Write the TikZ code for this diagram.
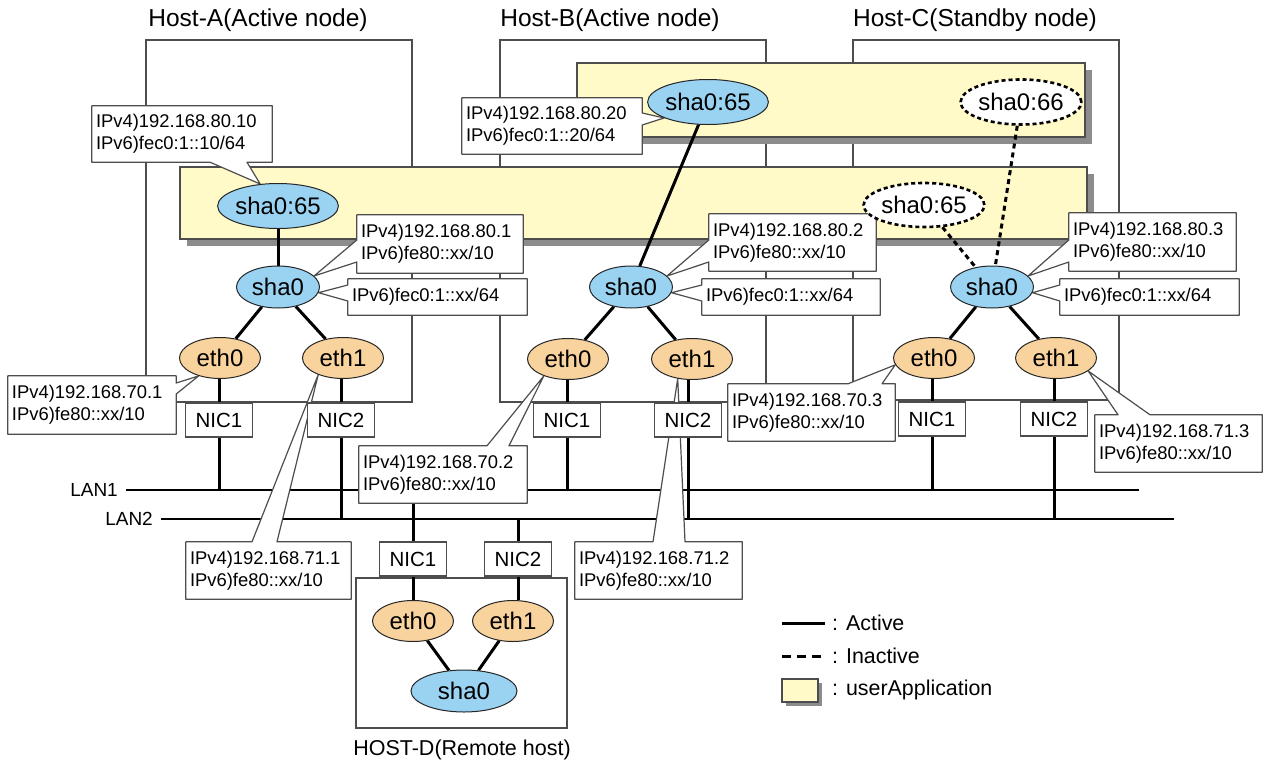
\documentclass[tikz,border=0pt]{standalone}
\usepackage{fontspec}
\setmainfont{Liberation Sans}
\usetikzlibrary{calc,shapes.geometric}
\pgfdeclarelayer{bg}
\pgfdeclarelayer{co}
\pgfsetlayers{bg,co,main}
\definecolor{uyel}{HTML}{FFFAC8}
\definecolor{sblue}{HTML}{9AD3F2}
\definecolor{eorg}{HTML}{F9D39D}
\definecolor{lgray}{HTML}{4D4D4D}
\definecolor{shad}{HTML}{8C8C8C}
\tikzset{
  hostbox/.style={draw=lgray, line width=1.3pt},
  ua/.style={fill=uyel, draw=lgray, line width=1.2pt},
  shd/.style={fill=shad, draw=none},
  title/.style={font=\fontsize{24.5}{28}\selectfont, inner sep=0pt},
  sha/.style={ellipse, draw=black!85, line width=1pt, fill=sblue, inner sep=0pt,
    minimum width=83pt, minimum height=42pt, font=\fontsize{24}{28}\selectfont},
  eth/.style={ellipse, draw=black!85, line width=1pt, fill=eorg, inner sep=0pt,
    minimum width=81pt, minimum height=41pt, font=\fontsize{24}{28}\selectfont},
  dsha/.style={ellipse, draw=black, fill=white, line width=2.6pt, dash pattern=on 4pt off 3pt,
    inner sep=0pt, font=\fontsize{24}{28}\selectfont},
  nic/.style={rectangle, draw=lgray, fill=white, line width=1.2pt, minimum width=67pt,
    minimum height=34pt, inner sep=0pt, font=\fontsize{20.5}{24}\selectfont},
  lbl/.style={rectangle, inner xsep=4pt, inner ysep=0pt, align=left,
    font=\fontsize{18.4}{22}\selectfont},
  cbox/.style={fill=white, draw=lgray, line width=1.2pt, line join=round},
  conn/.style={line width=3pt, black},
  inact/.style={line width=3pt, black, dash pattern=on 5pt off 4pt},
  leginact/.style={line width=3pt, black, dash pattern=on 9pt off 6pt},
  lan/.style={line width=2.6pt, black},
  lantxt/.style={font=\fontsize{19}{22}\selectfont, inner sep=0pt},
  legtxt/.style={font=\fontsize{21.4}{24}\selectfont, inner sep=0pt, anchor=west},
}
\newcommand\calL[4]{\filldraw[cbox] (#1.north west) -- (#1.west |- 0,#2) -- (#4) -- (#1.west |- 0,#3) -- (#1.south west) -- (#1.south east) -- (#1.north east) -- cycle;}
\newcommand\calR[4]{\filldraw[cbox] (#1.north west) -- (#1.north east) -- (#1.east |- 0,#2) -- (#4) -- (#1.east |- 0,#3) -- (#1.south east) -- (#1.south west) -- cycle;}
\newcommand\calT[4]{\filldraw[cbox] (#1.north west) -- (#1.north -| #2,0) -- (#4) -- (#1.north -| #3,0) -- (#1.north east) -- (#1.south east) -- (#1.south west) -- cycle;}
\newcommand\calB[4]{\filldraw[cbox] (#1.north west) -- (#1.north east) -- (#1.south east) -- (#1.south -| #3,0) -- (#4) -- (#1.south -| #2,0) -- (#1.south west) -- cycle;}
\begin{document}
\begin{tikzpicture}[x=1pt,y=-1pt]
\useasboundingbox (0,0) rectangle (1263,763);
% titles
\node[title] (tA) at (258,20) {Host-A(Active node)};
\node[title] (tB) at (610,20) {Host-B(Active node)};
\node[title] (tC) at (975,20) {Host-C(Standby node)};
% Host A
\node[sha, minimum width=109pt, minimum height=45pt] (sA65) at (278,206) {sha0:65};
\node[sha] (sA) at (278,287) {sha0};
\node[eth] (eA0) at (220,358) {eth0};
\node[eth] (eA1) at (343,358) {eth1};
\node[nic] (nA1) at (219,420) {NIC1};
\node[nic] (nA2) at (341,420) {NIC2};
% Host B
\node[sha, minimum width=109pt, minimum height=45pt] (sB65) at (708,102) {sha0:65};
\node[sha] (sB) at (631,287) {sha0};
\node[eth] (eB0) at (568,359) {eth0};
\node[eth] (eB1) at (692,359) {eth1};
\node[nic] (nB1) at (567,420) {NIC1};
\node[nic] (nB2) at (688,420) {NIC2};
% Host C
\node[dsha, minimum width=109pt, minimum height=45pt] (dC66) at (1021,102) {sha0:66};
\node[dsha, minimum width=104pt, minimum height=44pt] (dC65) at (924,205) {sha0:65};
\node[sha] (sC) at (992,287) {sha0};
\node[eth] (eC0) at (934,358) {eth0};
\node[eth] (eC1) at (1056,358) {eth1};
\node[nic] (nC1) at (932,419) {NIC1};
\node[nic] (nC2) at (1054,419) {NIC2};
% Host D
\node[nic] (nD1) at (413,559) {NIC1};
\node[nic] (nD2) at (518,559) {NIC2};
\node[eth] (eD0) at (413,621) {eth0};
\node[eth] (eD1) at (513,621) {eth1};
\node[sha, minimum width=106pt] (sD) at (464,691) {sha0};
\node[font=\fontsize{21.5}{24}\selectfont, inner sep=0pt] (tD) at (462,750) {HOST-D(Remote host)};
% LAN
\coordinate (lan1L) at (126,490);
\coordinate (lan1R) at (1139,490);
\coordinate (lan2L) at (161,519);
\coordinate (lan2R) at (1174,519);
\node[lantxt, anchor=east] (l1) at (118,490) {LAN1};
\node[lantxt, anchor=east] (l2) at (153,519) {LAN2};
% labels
\node[lbl, text width=172pt, minimum height=56pt] (c1) at (182,134) {IPv4)192.168.80.10\\IPv6)fec0:1::10/64};
\node[lbl, text width=158pt, minimum height=58pt] (c2) at (440,244) {IPv4)192.168.80.1\\IPv6)fe80::xx/10};
\node[lbl, text width=171pt, minimum height=36pt] (c3) at (437.5,297) {IPv6)fec0:1::xx/64};
\node[lbl, text width=172pt, minimum height=56pt] (c4) at (552,126) {IPv4)192.168.80.20\\IPv6)fec0:1::20/64};
\node[lbl, text width=159pt, minimum height=57pt] (c5) at (792.5,242.5) {IPv4)192.168.80.2\\IPv6)fe80::xx/10};
\node[lbl, text width=170pt, minimum height=36pt] (c6) at (791,297) {IPv6)fec0:1::xx/64};
\node[lbl, text width=159pt, minimum height=58pt] (c7) at (1152.5,242) {IPv4)192.168.80.3\\IPv6)fe80::xx/10};
\node[lbl, text width=171pt, minimum height=36pt] (c8) at (1149.5,297) {IPv6)fec0:1::xx/64};
\node[lbl, text width=160pt, minimum height=58pt] (c9) at (92,405) {IPv4)192.168.70.1\\IPv6)fe80::xx/10};
\node[lbl, text width=160pt, minimum height=57pt] (c10) at (443,474.5) {IPv4)192.168.70.2\\IPv6)fe80::xx/10};
\node[lbl, text width=157pt, minimum height=57pt] (c11) at (268.5,570.5) {IPv4)192.168.71.1\\IPv6)fe80::xx/10};
\node[lbl, text width=159pt, minimum height=57pt] (c12) at (658.5,570.5) {IPv4)192.168.71.2\\IPv6)fe80::xx/10};
\node[lbl, text width=159pt, minimum height=57pt] (c13) at (811.5,412.5) {IPv4)192.168.70.3\\IPv6)fe80::xx/10};
\node[lbl, text width=159pt, minimum height=57pt] (c14) at (1178.5,443.5) {IPv4)192.168.71.3\\IPv6)fe80::xx/10};
% legend
\coordinate (lg1a) at (782,623);
\coordinate (lg1b) at (825,623);
\coordinate (lg2a) at (782,656);
\coordinate (lg2b) at (825,656);
\node[legtxt] (lt1) at (832,623) {: Active};
\node[legtxt] (lt2) at (832,656) {: Inactive};
\node[legtxt] (lt3) at (832,690) {: userApplication};

\begin{pgfonlayer}{bg}
\fill[white] (0,0) rectangle (1263,763);
% host boxes
\draw[hostbox] (146,40) rectangle (412,402);
\draw[hostbox] (500,40) rectangle (766,402);
\draw[hostbox] (853,40) rectangle (1119,400);
\draw[hostbox] (356,578) rectangle (567,728);
% userApplication boxes
\fill[shd] (584,70) rectangle (1092,144);
\draw[ua] (577,63) rectangle (1085,137);
\fill[shd] (187,174) rectangle (1094,246);
\draw[ua] (180,167) rectangle (1087,239);
% LAN lines
\draw[lan] (lan1L) -- (lan1R);
\draw[lan] (lan2L) -- (lan2R);
% connections
\draw[conn] (sA65) -- (sA);
\draw[conn] (sA) -- (eA0);
\draw[conn] (sA) -- (eA1);
\draw[conn] (eA0.south -| nA1) -- (nA1.north);
\draw[conn] (eA1.south -| nA2) -- (nA2.north);
\draw[conn] (nA1.south) -- (nA1.south |- lan1L);
\draw[conn] (nA2.south) -- (nA2.south |- lan2L);
\draw[conn] (sB65) -- (sB);
\draw[conn] (sB) -- (eB0);
\draw[conn] (sB) -- (eB1);
\draw[conn] (eB0.south -| nB1) -- (nB1.north);
\draw[conn] (eB1.south -| nB2) -- (nB2.north);
\draw[conn] (nB1.south) -- (nB1.south |- lan1L);
\draw[conn] (nB2.south) -- (nB2.south |- lan2L);
\draw[inact] (dC66) -- (sC);
\draw[inact] (dC65) -- (sC);
\draw[conn] (sC) -- (eC0);
\draw[conn] (sC) -- (eC1);
\draw[conn] (eC0.south -| nC1) -- (nC1.north);
\draw[conn] (eC1.south -| nC2) -- (nC2.north);
\draw[conn] (nC1.south) -- (nC1.south |- lan1L);
\draw[conn] (nC2.south) -- (nC2.south |- lan2L);
\draw[conn] (nD1.north) -- (nD1.north |- lan1L);
\draw[conn] (nD2.north) -- (nD2.north |- lan2L);
\draw[conn] (nD1.south) -- (nD1.south |- eD0.north);
\draw[conn] (nD2.south) -- (nD2.south |- eD1.north);
\draw[conn] (eD0) -- (sD);
\draw[conn] (eD1) -- (sD);
% legend
\draw[conn] (lg1a) -- (lg1b);
\draw[leginact] (lg2a) -- (lg2b);
\fill[shd] (786,683) rectangle (822,706);
\draw[ua] (782,679) rectangle (818,702);
\end{pgfonlayer}

\begin{pgfonlayer}{co}
\calB{c1}{210}{247}{sA65.129}
\calL{c2}{240}{262}{sA.17}
\calL{c3}{285}{301}{sA.-8}
\calR{c4}{113}{125}{sB65.200}
\calL{c5}{240}{262}{sB.17}
\calL{c6}{285}{301}{sB.-8}
\calL{c7}{240}{262}{sC.17}
\calL{c8}{285}{301}{sC.-8}
\calR{c9}{383}{394}{eA0.220}
\calT{c10}{487}{509}{eB0.215}
\calT{c11}{252}{277}{eA1.214}
\calT{c12}{653}{685}{eB1.234}
\calT{c13}{848}{882}{eC0.190}
\calT{c14}{1118}{1150}{eC1.-22}
\end{pgfonlayer}
\end{tikzpicture}
\end{document}
